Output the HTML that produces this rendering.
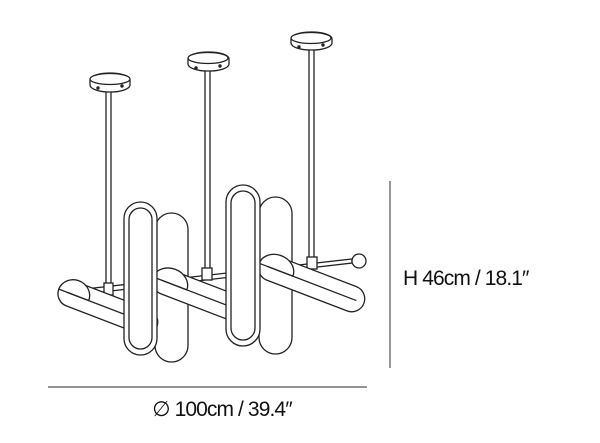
<!DOCTYPE html>
<html><head><meta charset="utf-8"><style>
html,body{margin:0;padding:0;background:#fff;width:600px;height:443px;overflow:hidden}
svg{display:block}
</style></head><body>
<svg width="600" height="443" viewBox="0 0 600 443" xmlns="http://www.w3.org/2000/svg" font-family="Liberation Sans, sans-serif">
<g fill="#fff" stroke="#222" stroke-width="1.3">
<rect x="106" y="90" width="5" height="200"/>
<rect x="205" y="70" width="5" height="200"/>
<rect x="309" y="48" width="5" height="210"/>
<rect x="90" y="73" width="40" height="19" rx="20" ry="7"/>
<ellipse cx="110" cy="79" rx="20" ry="5.5"/>
<rect x="188" y="52" width="41" height="19" rx="20" ry="7"/>
<ellipse cx="208" cy="58" rx="20" ry="5.5"/>
<rect x="291" y="32" width="41" height="18" rx="20" ry="7"/>
<ellipse cx="311" cy="38" rx="20" ry="5.5"/>
</g>
<g fill="#222">
<circle cx="98" cy="88" r="1.7"/><circle cx="122" cy="86" r="1.7"/>
<circle cx="196" cy="68" r="1.7"/><circle cx="220" cy="66" r="1.7"/>
<circle cx="299" cy="47" r="1.7"/><circle cx="323" cy="45" r="1.7"/>
</g>
<g fill="#fff" stroke="#222" stroke-width="1.3">
<polygon points="85,289 352,259 352,263 85,294"/>
<circle cx="359" cy="261" r="7"/>
<rect x="104" y="283" width="9" height="12"/>
<rect x="202" y="268" width="10" height="12"/>
<rect x="307" y="257" width="10" height="12"/>
<rect x="155" y="213" width="33" height="149" rx="16.5"/>
<rect x="259" y="197" width="33" height="157" rx="16.5"/>
<g transform="rotate(21 90 300)"><rect x="57" y="288" width="105" height="26" rx="13"/><path d="M57 301 a16 15 0 0 1 32 0 z"/><line x1="66" y1="301" x2="162" y2="301"/></g>
<g transform="rotate(21 190 290)"><rect x="151" y="278" width="112" height="26" rx="13"/><path d="M151 291 a18 15 0 0 1 36 0 z"/><line x1="160" y1="291" x2="263" y2="291"/></g>
<g transform="rotate(21 300 280)"><rect x="256" y="266" width="112" height="26" rx="13"/><path d="M256 279 a18 15 0 0 1 36 0 z"/><line x1="265" y1="279" x2="360" y2="279"/></g>
<rect x="124" y="202" width="33" height="153" rx="16.5"/>
<rect x="129" y="208" width="23" height="141" rx="11.5"/>
<rect x="226" y="185" width="34" height="161" rx="17"/>
<rect x="231" y="191" width="24" height="149" rx="12"/>
</g>
<line x1="390" y1="181" x2="390" y2="368" stroke="#555" stroke-width="1.2"/>
<line x1="48" y1="387" x2="367" y2="387" stroke="#555" stroke-width="1.2"/>
<text x="403" y="285" font-size="21" letter-spacing="-0.9" fill="#111">H 46cm / 18.1″</text>
<text x="222" y="416" font-size="21" letter-spacing="-0.9" fill="#111" text-anchor="middle">∅ 100cm / 39.4″</text>
</svg>
</body></html>
